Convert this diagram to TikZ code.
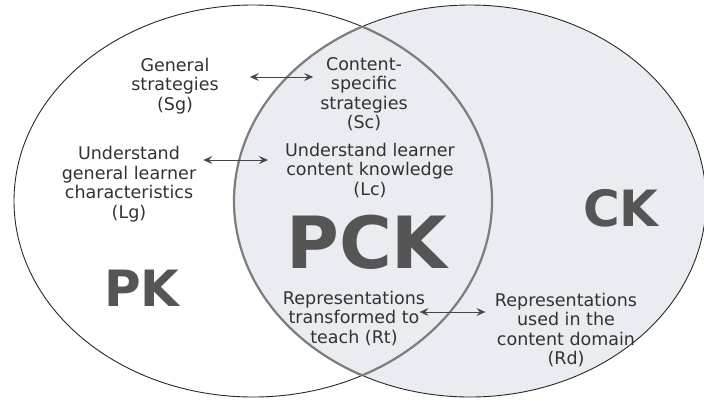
\documentclass[tikz,border=0pt]{standalone}
\usepackage{fontspec}
\setmainfont{DejaVu Sans}
\usetikzlibrary{arrows.meta}
\definecolor{kreis}{RGB}{40,40,40}
\definecolor{rand}{RGB}{125,125,125}
\definecolor{fuellung}{RGB}{233,236,240}
\definecolor{schrift}{RGB}{50,50,50}
\definecolor{gross}{RGB}{85,85,85}
\definecolor{pfeil}{RGB}{70,70,70}

\begin{document}
\begin{tikzpicture}[x=1pt, y=-1pt, schrift,
    txt/.style={align=center, inner sep=0pt, font=\fontsize{17.5}{19.5}\selectfont},
    big/.style={inner sep=0pt, gross, font=\bfseries\fontsize{50}{50}\selectfont},
    link/.style={<->, >={Stealth[length=9pt, width=8pt, inset=3.5pt]}, line width=0.8pt, pfeil}]

    \useasboundingbox (0,0) rectangle (704,400);

    % CK ist grau hinterlegt
    \fill[fuellung] (470,201) ellipse [x radius=236, y radius=196];

    \draw[kreis, line width=0.9pt] (253,201) ellipse [x radius=239, y radius=196];
    \draw[kreis, line width=0.9pt] (470,201) ellipse [x radius=236, y radius=196];

    % Rand der Schnittmenge (PCK)
    \begin{scope}
        \clip (470,201) ellipse [x radius=236, y radius=196];
        \draw[rand, line width=2.2pt] (253,201) ellipse [x radius=239, y radius=196];
    \end{scope}
    \begin{scope}
        \clip (253,201) ellipse [x radius=239, y radius=196];
        \draw[rand, line width=2.2pt] (470,201) ellipse [x radius=236, y radius=196];
    \end{scope}

    \node[txt] (sg) at (175,86) {General\\strategies\\(Sg)};
    \node[txt] (sc) at (364,94) {Content-\\specific\\strategies\\(Sc)};
    \node[txt] (lg) at (129,184) {Understand\\general learner\\characteristics\\(Lg)};
    \node[txt] (lc) at (370,170) {Understand learner\\content knowledge\\(Lc)};
    \node[txt] (rt) at (354,318) {Representations\\transformed to\\teach (Rt)};
    \node[txt] (rd) at (566,330) {Representations\\used in the\\content domain\\(Rd)};

    \node[big, font=\bfseries\fontsize{72}{72}\selectfont] (pck) at (367,242) {PCK};
    \node[big] (pk) at (142,288) {PK};
    \node[big] (ck) at (621,208) {CK};

    \draw[link] ([xshift=31pt, yshift=9pt]sg.east) -- ([xshift=-7pt, yshift=17pt]sc.west);
    \draw[link] ([xshift=7pt, yshift=24pt]lg.east) -- ([xshift=-17pt, yshift=10pt]lc.west);
    \draw[link] ([xshift=-5.6pt, yshift=6pt]rt.east) -- ([xshift=-9.4pt, yshift=18pt]rd.west);

\end{tikzpicture}
\end{document}
